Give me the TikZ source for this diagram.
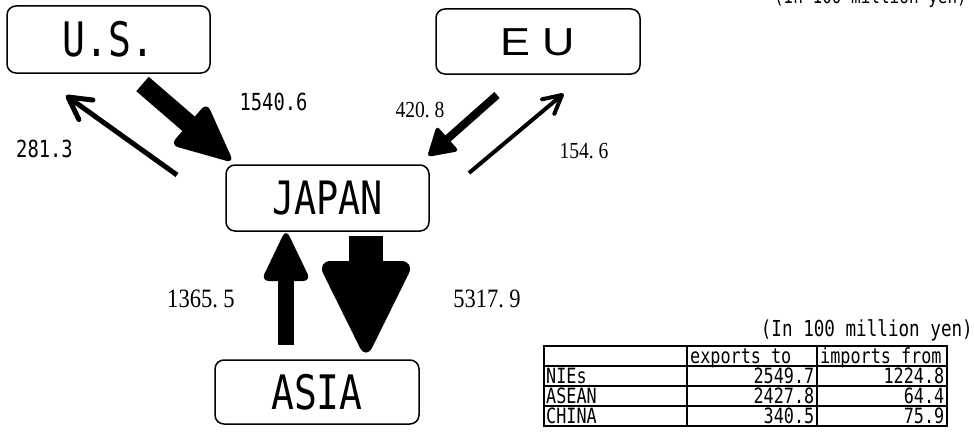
\documentclass[tikz,border=0pt]{standalone}
\usepackage{fontspec}
\usetikzlibrary{calc}
\newfontfamily\gothA[FakeStretch=0.8]{DejaVu Sans Mono}
\newfontfamily\gothT[FakeStretch=0.8]{DejaVu Sans Mono}
\newfontfamily\mincho[FakeStretch=0.85]{Liberation Serif}
\newfontfamily\eufont[FakeStretch=1.15]{Liberation Sans}

% block arrow: tail, tip, shaft half-width, head half-width, head length, corner radius
\newcommand\blockarr[6]{%
  \coordinate (hb) at ($(#2)!#5!(#1)$);
  \coordinate (hs) at ($(#2)!#5-3pt!(#1)$);
  \fill ($(#1)!#3!90:(#2)$) -- ($(#1)!#3!-90:(#2)$) -- ($(hs)!#3!-90:(#2)$) -- ($(hs)!#3!90:(#2)$) -- cycle;
  \fill[rounded corners=#6] (hb) -- ($(hb)!#4!90:(#2)$) -- (#2) -- ($(hb)!#4!-90:(#2)$) -- cycle;
}
% line arrow with open head: tail, tip, line width, head length, head half-width
\newcommand\linearr[5]{%
  \coordinate (wb) at ($(#2)!#4!(#1)$);
  \draw[line width=#3, line cap=butt] (#1) -- (#2);
  \draw[line width=#3, line cap=round, line join=round] ($(wb)!#5!90:(#1)$) -- (#2) -- ($(wb)!#5!-90:(#1)$);
}

\tikzset{
  regionbox/.style={draw, line width=1.5pt, rounded corners=9pt, inner sep=0pt, text depth=0pt},
  tabline/.style={line width=2.5pt},
  gothnum/.style={inner sep=0pt, font=\gothA\fontsize{23.5}{26}\selectfont},
  minsmall/.style={inner sep=0pt, font=\mincho\fontsize{23}{26}\selectfont},
  minbig/.style={inner sep=0pt, font=\mincho\fontsize{26.5}{29}\selectfont},
  tabtext/.style={inner sep=0pt, font=\gothT\fontsize{21}{23}\selectfont},
}

\begin{document}
\begin{tikzpicture}[x=1pt, y=-1pt]
\useasboundingbox (0,0) rectangle (974,436);
\clip (0,0) rectangle (974,436);

% region boxes
\node[regionbox, minimum width=203pt, minimum height=67pt, text height=34.6pt,
      font=\gothA\fontsize{47.5}{50}\selectfont] (us) at (108.5,39.5) {U.S.};
\node[regionbox, minimum width=204pt, minimum height=65pt, text height=27.9pt,
      font=\eufont\fontsize{39}{42}\selectfont] (eu) at (538,41.5) {E\kern12pt U};
\node[regionbox, minimum width=203pt, minimum height=66pt, text height=33.5pt,
      font=\gothA\fontsize{46}{50}\selectfont] (japan) at (327.5,198) {JAPAN};
\node[regionbox, minimum width=204pt, minimum height=64pt, text height=34.6pt,
      font=\gothA\fontsize{47.5}{50}\selectfont] (asia) at (317,392) {ASIA};

% arrows
\coordinate (a1t) at (142.5,84);  \coordinate (a1h) at (234,163);
\blockarr{a1t}{a1h}{9.5pt}{28pt}{60pt}{8pt}
\coordinate (a2t) at (177,175);   \coordinate (a2h) at (68,97);
\linearr{a2t}{a2h}{5pt}{22pt}{12pt}
\coordinate (a3t) at (497,95);    \coordinate (a3h) at (427,157);
\blockarr{a3t}{a3h}{4pt}{17pt}{28pt}{4pt}
\coordinate (a4t) at (469,173);   \coordinate (a4h) at (562,95);
\linearr{a4t}{a4h}{4pt}{18pt}{9.5pt}
\coordinate (a5t) at (286,345);   \coordinate (a5h) at (286,229);
\blockarr{a5t}{a5h}{8pt}{25pt}{52pt}{8pt}
\coordinate (a6t) at (366,236);   \coordinate (a6h) at (366,360);
\blockarr{a6t}{a6h}{17pt}{49pt}{99pt}{14pt}

% arrow labels
\node[gothnum] (l1540) at (273.5,101.5) {1540.6};
\node[gothnum] (l281) at (44.5,148.5) {281.3};
\node[minsmall] (l420) at (420,110.5) {420.\kern.21em 8};
\node[minsmall] (l154) at (584,151.5) {154.\kern.21em 6};
\node[minbig] (l1365) at (201,299) {1365.\kern.21em 5};
\node[minbig] (l5317) at (487,299) {5317.\kern.21em 9};

% unit notes (the top one is cut by the picture's upper edge, as in the reference)
\node[anchor=base east, inner sep=0pt, font=\gothA\fontsize{20}{22}\selectfont] (unit1) at (967,4) {(In 100 million yen)};
\node[anchor=base east, inner sep=0pt, font=\gothA\fontsize{22}{24}\selectfont] (unit2) at (973,336) {(In 100 million yen)};

% table
\draw[tabline] (544,346) rectangle (947,426);
\draw[tabline] (544,366) -- (947,366);
\draw[tabline] (544,386) -- (947,386);
\draw[tabline] (544,406) -- (947,406);
\draw[tabline] (687,346) -- (687,426);
\draw[tabline] (817,346) -- (817,426);

\node[tabtext, anchor=base west] (hexp) at (690,363.5) {exports to};
\node[tabtext, anchor=base west] (himp) at (820,363.5) {imports from};
\node[tabtext, anchor=base west] (rnies) at (546,383.5) {NIEs};
\node[tabtext, anchor=base west] (rasean) at (546,403.5) {ASEAN};
\node[tabtext, anchor=base west] (rchina) at (546,423.5) {CHINA};
\node[tabtext, anchor=base east] (e1) at (814.5,383.5) {2549.7};
\node[tabtext, anchor=base east] (e2) at (814.5,403.5) {2427.8};
\node[tabtext, anchor=base east] (e3) at (814.5,423.5) {340.5};
\node[tabtext, anchor=base east] (i1) at (944.5,383.5) {1224.8};
\node[tabtext, anchor=base east] (i2) at (944.5,403.5) {64.4};
\node[tabtext, anchor=base east] (i3) at (944.5,423.5) {75.9};
\end{tikzpicture}
\end{document}
